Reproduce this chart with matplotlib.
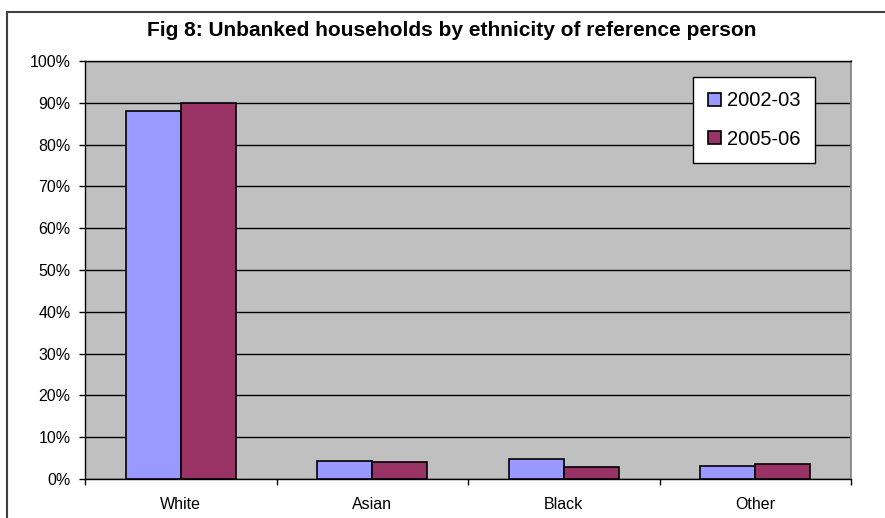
import numpy as np
import matplotlib
matplotlib.use("Agg")
import matplotlib.pyplot as plt
from matplotlib.patches import Rectangle

plt.rcParams['font.family'] = ['Liberation Sans', 'DejaVu Sans']

# share of unbanked households, per cent
ethnicity = ['White', 'Asian', 'Black', 'Other']
y2002 = [88.0, 4.4, 4.8, 3.2]
y2005 = [90.0, 4.1, 2.9, 3.6]
series_labels = ['2002-03', '2005-06']

W, H = 885, 518
fig = plt.figure(figsize=(W / 100, H / 100), dpi=100)
fig.patch.set_facecolor('white')

# outer chart border (runs off the right and bottom edges)
fig.patches.append(Rectangle((7 / W, -0.1), 1.2, 1 - 12 / H + 0.1,
                             transform=fig.transFigure, fill=False,
                             edgecolor='#404040', linewidth=1.5))

ax = fig.add_axes([85 / W, 1 - 479 / H, (851 - 85) / W, (479 - 61) / H])
ax.set_facecolor('#C0C0C0')

x = np.arange(len(ethnicity))
bw = 0.287
ax.bar(x - bw / 2, y2002, bw, color='#9999FF', edgecolor='black',
       linewidth=1.2, label=series_labels[0], zorder=3)
ax.bar(x + bw / 2, y2005, bw, color='#993366', edgecolor='black',
       linewidth=1.2, label=series_labels[1], zorder=3)

ax.set_xlim(-0.5, len(ethnicity) - 0.5)
ax.set_ylim(0, 100)

ax.set_yticks(np.arange(0, 101, 10))
ax.set_yticklabels([f'{v}%' for v in range(0, 101, 10)])
ax.yaxis.grid(True, color='black', linewidth=1.0, zorder=1)
ax.tick_params(axis='y', direction='out', length=4, width=1,
               labelsize=11.5, pad=6.5)

# category labels centred, tick marks on the boundaries
ax.set_xticks(np.arange(-0.5, len(ethnicity)), labels=[''] * (len(ethnicity) + 1))
ax.set_xticks(x, labels=ethnicity, minor=True)
ax.tick_params(axis='x', which='major', direction='out', length=4, width=1)
ax.tick_params(axis='x', which='minor', length=0, labelsize=11.5, pad=13)

for side in ['left', 'bottom', 'top']:
    ax.spines[side].set_color('black')
    ax.spines[side].set_linewidth(1.0)
ax.spines['right'].set_color('#808080')
ax.spines['right'].set_linewidth(1.2)
ax.set_axisbelow(True)

leg = ax.legend(loc='upper left',
                bbox_to_anchor=((693 - 85) / (851 - 85), (479 - 77) / (479 - 61)),
                fontsize=14.5, frameon=True, fancybox=False, shadow=False,
                edgecolor='black', framealpha=1, borderaxespad=0,
                handlelength=0.65, handleheight=0.65, handletextpad=0.3,
                labelspacing=0.95, borderpad=0.72)
leg.get_frame().set_linewidth(1.0)

fig.text(452 / W, 1 - 30 / H,
         'Fig 8: Unbanked households by ethnicity of reference person',
         ha='center', va='center', fontsize=15, fontweight='bold')

fig.savefig('out.png', dpi=100, facecolor='white')
